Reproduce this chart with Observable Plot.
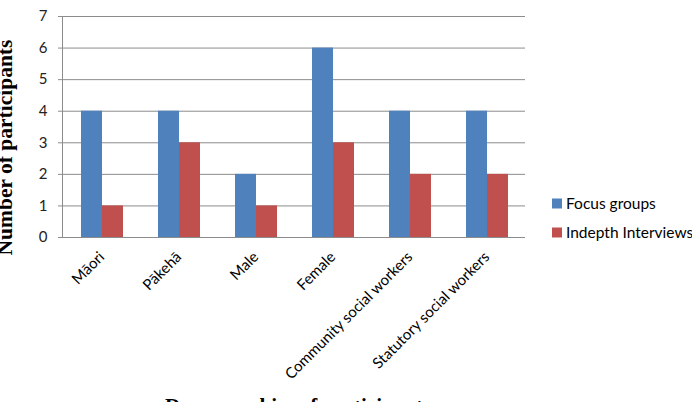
<!DOCTYPE html>
<html>
<head>
<meta charset="utf-8">
<script src="https://cdn.jsdelivr.net/npm/d3@7"></script>
<script src="https://cdn.jsdelivr.net/npm/@observablehq/plot@0.6"></script>
<style>
  html, body { margin: 0; padding: 0; background: #fff; overflow: hidden; }
  #chart svg { display: block; }
</style>
</head>
<body>
<div id="chart"></div>
<script>
const categories = ["Māori", "Pākehā", "Male", "Female", "Community social workers", "Statutory social workers"];
const series = ["Focus groups", "Indepth Interviews"];
const focusGroups = [4, 4, 2, 6, 4, 4];
const indepthInterviews = [1, 3, 1, 3, 2, 2];
const yTicks = [0, 1, 2, 3, 4, 5, 6, 7];
const colors = ["#4F81BD", "#C0504D"];
const yTitle = "Number of participants";
const xTitle = "Demographics of participants";

const data = [];
categories.forEach((c, i) => {
  data.push({category: c, series: series[0], value: focusGroups[i]});
  data.push({category: c, series: series[1], value: indepthInterviews[i]});
});

const W = 692, H = 402;
const mL = 62, mR = 167, mT = 16, mB = 165;

const chart = Plot.plot({
  width: W, height: H,
  marginLeft: mL, marginRight: mR, marginTop: mT, marginBottom: mB,
  style: {fontFamily: "Lato, 'Open Sans', sans-serif", fontSize: "15px", color: "#000", background: "#fff", overflow: "hidden"},
  fx: {domain: categories, padding: 0, label: null, tickRotate: -45, tickSize: 0, tickPadding: 17, fontSize: 15},
  x: {domain: series, axis: null, paddingInner: 0, paddingOuter: 0.755},
  y: {domain: [0, 7], axis: null},
  color: {domain: series, range: colors},
  marks: [
    Plot.gridY(yTicks, {stroke: "#8c8c8c", strokeOpacity: 1, strokeWidth: 1}),
    Plot.barY(data, {fx: "category", x: "series", y: "value", fill: "series", inset: 0}),
    Plot.axisY(yTicks, {tickSize: 5, tickPadding: 11, fontSize: 15, label: null, stroke: "#8c8c8c", color: "#222", fill: "#222", tickFormat: d => String(d)})
  ]
});

document.getElementById("chart").appendChild(chart);

const svg = d3.select(chart);
const y = chart.scale("y");
const y0 = y.apply(0), y7 = y.apply(7);

// y axis line
svg.append("line")
  .attr("x1", mL + 0.5).attr("x2", mL + 0.5)
  .attr("y1", y7).attr("y2", y0)
  .attr("stroke", "#8c8c8c");

// legend
const lg = svg.append("g")
  .attr("font-family", "Lato, 'Open Sans', sans-serif")
  .attr("font-size", 15.5)
  .attr("text-anchor", "start");
const legendY = [203.5, 232.5];
series.forEach((s, i) => {
  lg.append("rect").attr("x", 552).attr("y", legendY[i] - 5).attr("width", 10).attr("height", 10).attr("fill", colors[i]);
  lg.append("text").attr("x", 566).attr("y", legendY[i]).attr("dy", "0.35em").attr("text-anchor", "start").attr("fill", "#000").text(s);
});

// axis titles
svg.append("text")
  .attr("transform", `translate(12,${(y0 + y7) / 2 + 21}) rotate(-90)`)
  .attr("text-anchor", "middle")
  .attr("font-family", "'Liberation Serif', 'Times New Roman', serif")
  .attr("font-weight", "bold")
  .attr("font-size", 21.5)
  .attr("fill", "#000")
  .text(yTitle);

svg.append("text")
  .attr("x", 165).attr("y", 413)
  .attr("text-anchor", "start")
  .attr("font-family", "'Liberation Serif', 'Times New Roman', serif")
  .attr("font-weight", "bold")
  .attr("font-size", 21)
  .attr("fill", "#000")
  .text(xTitle);
</script>
</body>
</html>
